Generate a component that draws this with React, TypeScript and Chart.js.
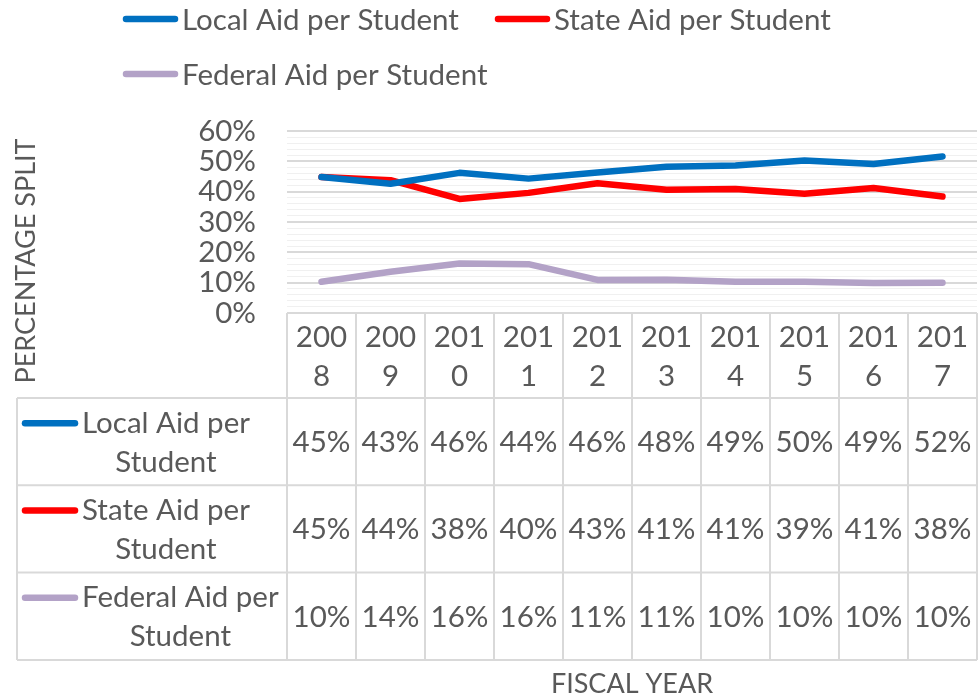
import React, { useEffect, useRef } from 'react';
import { Chart, registerables } from 'chart.js';

Chart.register(...registerables);

const years = ['2008', '2009', '2010', '2011', '2012', '2013', '2014', '2015', '2016', '2017'];
const yearHeaderLines = [['200', '8'], ['200', '9'], ['201', '0'], ['201', '1'], ['201', '2'], ['201', '3'], ['201', '4'], ['201', '5'], ['201', '6'], ['201', '7']];
const seriesNames = ['Local Aid per Student', 'State Aid per Student', 'Federal Aid per Student'];
const rowLabelLines = [['Local Aid per', 'Student'], ['State Aid per', 'Student'], ['Federal Aid per', 'Student']];
const localAid = [44.8, 42.6, 46.2, 44.3, 46.3, 48.2, 48.6, 50.3, 49.1, 51.6];
const stateAid = [44.8, 43.8, 37.6, 39.6, 42.8, 40.6, 40.9, 39.3, 41.2, 38.4];
const federalAid = [10.3, 13.6, 16.3, 16.1, 10.9, 11.0, 10.3, 10.3, 9.9, 10.0];
const seriesColors = ['#0070C0', '#FF0000', '#B3A2C7'];
const yTitle = 'PERCENTAGE SPLIT';
const xTitle = 'FISCAL YEAR';

const FONT = 'Lato';
const FS = 29.5;
const TITLE_FS = 27;
const TEXT = '#595959';

const tablePlugin = {
  id: 'excelTable',
  afterDraw(chart: any) {
    const { ctx, chartArea, scales } = chart;
    const xs = scales.x;
    const n = years.length;
    const colW = (chartArea.right - chartArea.left) / n;
    const top = chartArea.bottom;
    const headerH = 85;
    const rowH = 87.3;
    const tableLeft = 17;
    const right = chartArea.right;
    const rowsData = [localAid, stateAid, federalAid];

    ctx.save();
    ctx.font = `${FS}px ${FONT}`;
    ctx.fillStyle = TEXT;
    ctx.textBaseline = 'middle';

    // legend
    const legendItems = [
      { x: 123, y: 19 },
      { x: 495, y: 19 },
      { x: 123, y: 74 },
    ];
    legendItems.forEach((p, i) => {
      ctx.strokeStyle = seriesColors[i];
      ctx.lineWidth = 6.5;
      ctx.lineCap = 'round';
      ctx.beginPath();
      ctx.moveTo(p.x + 3, p.y);
      ctx.lineTo(p.x + 52, p.y);
      ctx.stroke();
      ctx.textAlign = 'left';
      ctx.fillText(seriesNames[i], p.x + 59, p.y + 1);
    });

    // y title
    ctx.save();
    ctx.font = `${TITLE_FS}px ${FONT}`;
    ctx.translate(25, 261);
    ctx.rotate(-Math.PI / 2);
    ctx.textAlign = 'center';
    ctx.fillText(yTitle, 0, 1);
    ctx.restore();

    // table borders
    ctx.strokeStyle = '#d9d9d9';
    ctx.lineWidth = 2;
    ctx.lineCap = 'butt';
    const bottom = top + headerH + rowH * 3;
    ctx.beginPath();
    ctx.moveTo(chartArea.left, top);
    ctx.lineTo(right, top);
    for (let r = 0; r <= 3; r++) {
      const y = top + headerH + rowH * r;
      ctx.moveTo(tableLeft, y);
      ctx.lineTo(right, y);
    }
    for (let i = 0; i <= n; i++) {
      const cx = i < n ? xs.getPixelForValue(i) - colW / 2 : xs.getPixelForValue(n - 1) + colW / 2;
      ctx.moveTo(cx, top);
      ctx.lineTo(cx, bottom);
    }
    ctx.moveTo(tableLeft, top + headerH);
    ctx.lineTo(tableLeft, bottom);
    ctx.stroke();

    // header
    ctx.textAlign = 'center';
    for (let i = 0; i < n; i++) {
      const cx = xs.getPixelForValue(i);
      const cy = top + headerH / 2 + 1;
      ctx.fillText(yearHeaderLines[i][0], cx, cy - 19.5);
      ctx.fillText(yearHeaderLines[i][1], cx, cy + 19.5);
    }

    // rows
    rowsData.forEach((vals, r) => {
      const cy = top + headerH + rowH * r + rowH / 2 + 1;
      vals.forEach((v, i) => {
        ctx.textAlign = 'center';
        ctx.fillText(Math.round(v) + '%', xs.getPixelForValue(i), cy);
      });
      const ky = cy - 19.5;
      ctx.strokeStyle = seriesColors[r];
      ctx.lineWidth = 6.5;
      ctx.lineCap = 'round';
      ctx.beginPath();
      ctx.moveTo(25, ky);
      ctx.lineTo(75, ky);
      ctx.stroke();
      const lines = rowLabelLines[r];
      const w = Math.max(...lines.map((l) => ctx.measureText(l).width));
      const bx = 82 + w / 2;
      ctx.textAlign = 'center';
      ctx.fillText(lines[0], bx, ky);
      ctx.fillText(lines[1], bx, cy + 19.5);
    });

    // x title
    ctx.font = `${TITLE_FS}px ${FONT}`;
    ctx.textAlign = 'center';
    ctx.fillText(xTitle, (chartArea.left + chartArea.right) / 2, 684);
    ctx.restore();
  },
};

export default function App() {
  const ref = useRef<HTMLCanvasElement>(null);
  useEffect(() => {
    if (!ref.current) return;
    const chart = new Chart(ref.current, {
      type: 'line',
      data: {
        labels: years,
        datasets: [localAid, stateAid, federalAid].map((d, i) => ({
          label: seriesNames[i],
          data: d,
          borderColor: seriesColors[i],
          backgroundColor: seriesColors[i],
          borderWidth: 6.5,
          pointRadius: 0,
          tension: 0,
          borderCapStyle: 'round',
          borderJoinStyle: 'round',
          fill: false,
        })),
      },
      options: {
        animation: false,
        responsive: false,
        devicePixelRatio: 1,
        layout: { padding: { left: 0, right: 1, top: 131, bottom: 385 } },
        plugins: { legend: { display: false }, tooltip: { enabled: false }, title: { display: false } },
        scales: {
          x: { display: false, offset: true },
          y: {
            min: 0,
            max: 60,
            border: { display: false },
            afterFit: (s: any) => { s.width = 287; },
            grid: {
              drawTicks: false,
              color: (c: any) => (c.tick && c.tick.value % 10 === 0 ? '#d9d9d9' : '#f0f0f0'),
              lineWidth: (c: any) => (c.tick && c.tick.value % 10 === 0 ? 2 : 1),
            },
            ticks: {
              stepSize: 2,
              maxTicksLimit: 100,
              autoSkip: false,
              padding: 31,
              color: TEXT,
              font: { family: FONT, size: FS },
              callback: (v: any) => (v % 10 === 0 ? v + '%' : ''),
            },
          },
        },
      },
      plugins: [tablePlugin],
    } as any);
    return () => chart.destroy();
  }, []);
  return (
    <div style={{ position: 'fixed', left: 0, top: 0, width: 978, height: 698, background: '#fff' }}>
      <canvas ref={ref} width={978} height={698} />
    </div>
  );
}
